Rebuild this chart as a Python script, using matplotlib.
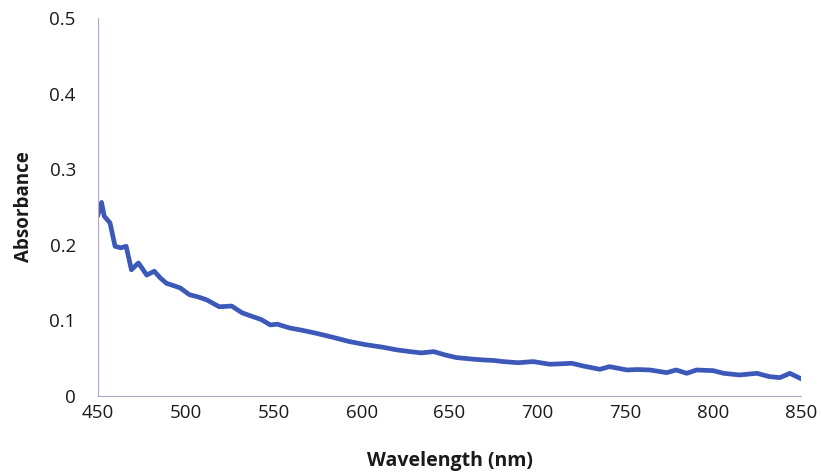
import matplotlib.pyplot as plt

# wavelength (nm) and absorbance
wavelength = [450, 452, 453.5, 456.8, 459.7, 463, 466, 469, 473, 477.7, 482, 485.5,
              489, 493, 496.7, 502, 507, 512, 519, 526, 532, 538, 543, 548, 552,
              559, 566, 574, 583, 593, 602, 612, 620, 627.5, 634, 641, 648, 654,
              662, 669, 675, 680.6, 689, 697.7, 707, 713, 719.5, 726, 735.6, 741,
              751, 757, 764, 773.6, 779, 785, 790.6, 800, 806, 815, 825, 832, 838,
              843.7, 849.5]
absorbance = [0.240, 0.256, 0.238, 0.229, 0.198, 0.196, 0.198, 0.167, 0.176, 0.160,
              0.165, 0.156, 0.149, 0.146, 0.143, 0.134, 0.131, 0.127, 0.118, 0.119,
              0.110, 0.105, 0.101, 0.094, 0.095, 0.090, 0.087, 0.083, 0.078, 0.072,
              0.068, 0.0645, 0.061, 0.0587, 0.057, 0.0587, 0.054, 0.0508, 0.049,
              0.0477, 0.047, 0.0455, 0.044, 0.0455, 0.042, 0.0425, 0.0433, 0.0397,
              0.0353, 0.0388, 0.0344, 0.035, 0.0344, 0.0309, 0.0344, 0.030, 0.0344,
              0.0335, 0.030, 0.0278, 0.030, 0.0256, 0.0243, 0.030, 0.0234]

xticks = [450, 500, 550, 600, 650, 700, 750, 800, 850]
yticks = [0, 0.1, 0.2, 0.3, 0.4, 0.5]
yticklabels = ["0", "0.1", "0.2", "0.3", "0.4", "0.5"]

plt.rcParams['font.family'] = ['Open Sans', 'DejaVu Sans']

fig = plt.figure(figsize=(8.21, 4.74), dpi=100)
ax = fig.add_axes([0.1194, 0.1646, 0.8562, 0.7974])
ax.plot(wavelength, absorbance, color="#3C58B8", linewidth=3.4, solid_joinstyle="round")

ax.set_xlim(450, 850)
ax.set_ylim(0, 0.5)
ax.set_xticks(xticks)
ax.set_yticks(yticks)
ax.set_yticklabels(yticklabels)
ax.tick_params(length=0, labelsize=13.5, colors="#1a1a1a")
ax.tick_params(axis="y", pad=16)
ax.tick_params(axis="x", pad=6)

for s in ["top", "right"]:
    ax.spines[s].set_visible(False)
ax.spines["left"].set_color("#B8A8C8")
ax.spines["bottom"].set_color("#A8A8B8")

ax.set_xlabel("Wavelength (nm)", fontsize=14, fontweight="bold", color="#1a1a1a", labelpad=21)
ax.set_ylabel("Absorbance", fontsize=13.5, fontweight="bold", color="#1a1a1a", labelpad=11)

fig.savefig("out.png", dpi=100)
